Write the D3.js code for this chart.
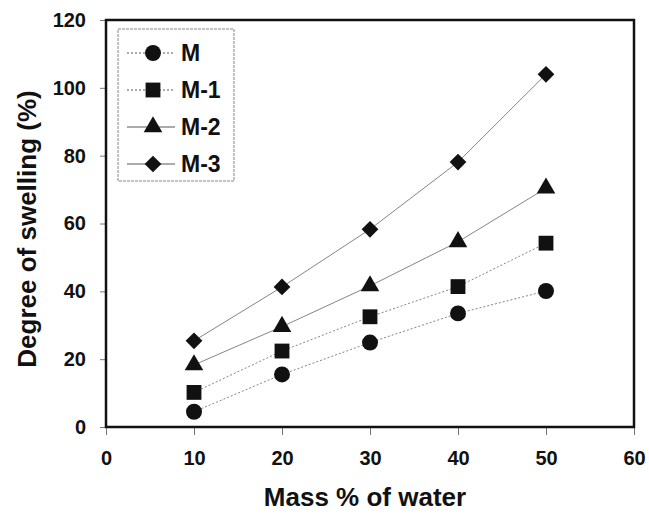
<!DOCTYPE html>
<html>
<head>
<meta charset="utf-8">
<script src="https://cdn.jsdelivr.net/npm/d3@7"></script>
<style>
  body { margin: 0; background: #fff; }
  text { font-family: "Liberation Sans", Arial, sans-serif; font-weight: bold; fill: #111; }
</style>
</head>
<body>
<svg id="mainsvg" width="649" height="516"></svg>
<script>
// data
const waterMass = [10, 20, 30, 40, 50];
const seriesNames = ['M', 'M-1', 'M-2', 'M-3'];
const valuesM  = [4.5, 15.5, 24.9, 33.5, 40.1];
const valuesM1 = [10.2, 22.4, 32.5, 41.4, 54.2];
const valuesM2 = [18.3, 29.6, 41.6, 54.6, 70.4];
const valuesM3 = [25.4, 41.3, 58.3, 78.1, 104];
const xTicks = [0, 10, 20, 30, 40, 50, 60];
const yTicks = [0, 20, 40, 60, 80, 100, 120];

let svg = d3.select('#mainsvg');
const margin = {left: 106, right: 15, top: 20, bottom: 89};
const width = +svg.attr('width'), height = +svg.attr('height');

const x = d3.scaleLinear().domain([0, 60]).range([margin.left, width - margin.right]);
const y = d3.scaleLinear().domain([0, 120]).range([height - margin.bottom, margin.top]);

const series = [
    {name: seriesNames[0], values: valuesM,  shape: d3.symbolCircle,   size: 200, rot: 0,  dash: '2,2'},
    {name: seriesNames[1], values: valuesM1, shape: d3.symbolSquare,   size: 220, rot: 0,  dash: '2,2'},
    {name: seriesNames[2], values: valuesM2, shape: d3.symbolTriangle, size: 150, rot: 0,  dash: null},
    {name: seriesNames[3], values: valuesM3, shape: d3.symbolSquare,   size: 140, rot: 45, dash: null}
];

// axes
const xAxis = svg.append('g')
    .attr('transform', `translate(0,${y(0)})`)
    .call(d3.axisBottom(x).tickValues(xTicks).tickSize(8).tickPadding(16));
const yAxis = svg.append('g')
    .attr('transform', `translate(${x(0)},0)`)
    .call(d3.axisLeft(y).tickValues(yTicks).tickSize(6).tickPadding(14));
[xAxis, yAxis].forEach(a => {
    a.select('.domain').remove();
    a.selectAll('line').attr('stroke', '#777').attr('stroke-width', 1);
    a.selectAll('text').style('font-size', '20px').attr('fill', '#111');
});

// frame
svg.append('rect')
    .attr('x', x(0)).attr('y', y(120))
    .attr('width', x(60) - x(0)).attr('height', y(0) - y(120))
    .attr('fill', 'none').attr('stroke', '#111').attr('stroke-width', 2.5);

// lines and markers
const line = d3.line().x((d, i) => x(waterMass[i])).y(d => y(d));
series.forEach(s => {
    svg.append('path')
        .attr('d', line(s.values))
        .attr('fill', 'none')
        .attr('stroke', '#666')
        .attr('stroke-width', 0.8)
        .attr('stroke-dasharray', s.dash);
    svg.append('g').selectAll('path').data(s.values).enter().append('path')
        .attr('d', d3.symbol().type(s.shape).size(s.size))
        .attr('transform', (d, i) => `translate(${x(waterMass[i])},${y(d)}) rotate(${s.rot})`)
        .attr('fill', '#111');
});

// legend
const legend = svg.append('g');
legend.append('rect')
    .attr('x', 118).attr('y', 29).attr('width', 116).attr('height', 152)
    .attr('fill', '#fff').attr('stroke', '#666').attr('stroke-width', 0.8)
    .attr('stroke-dasharray', '3,1');
series.forEach((s, i) => {
    const cy = 53 + i * 37;
    legend.append('line')
        .attr('x1', 127).attr('x2', 175).attr('y1', cy).attr('y2', cy)
        .attr('stroke', '#444').attr('stroke-width', 0.9)
        .attr('stroke-dasharray', s.dash);
    legend.append('path')
        .attr('d', d3.symbol().type(s.shape).size(s.size))
        .attr('transform', `translate(153,${cy}) rotate(${s.rot})`)
        .attr('fill', '#111');
    legend.append('text')
        .attr('x', 181).attr('y', cy + 8)
        .style('font-size', '23px')
        .text(s.name);
});

// axis titles
svg.append('text')
    .attr('x', 365).attr('y', 506)
    .attr('text-anchor', 'middle')
    .style('font-size', '26px')
    .text('Mass % of water');
svg.append('text')
    .attr('transform', `translate(36,229) rotate(-90)`)
    .attr('text-anchor', 'middle')
    .style('font-size', '26px')
    .text('Degree of swelling (%)');
</script>
</body>
</html>
